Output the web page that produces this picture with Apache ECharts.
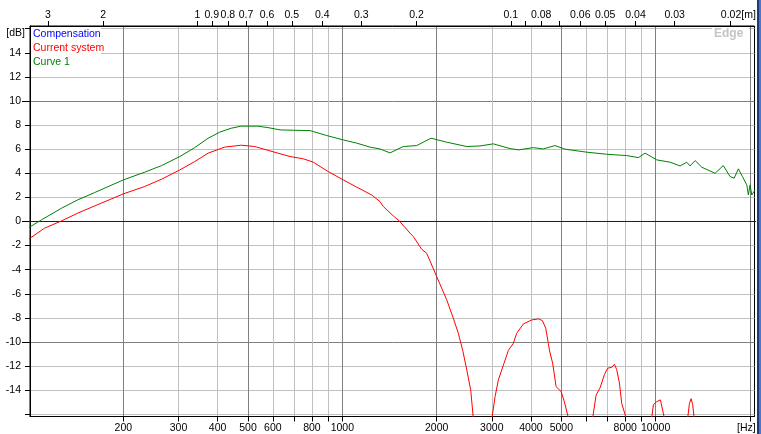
<!DOCTYPE html>
<html><head><meta charset="utf-8">
<script src="https://cdn.jsdelivr.net/npm/echarts@6/dist/echarts.min.js"></script>
<style>html,body{margin:0;padding:0;background:#fff}#c{width:761px;height:434px}</style>
</head><body><div id="c"></div>
<script>
// ---- data ----
const SOUND_SPEED = 345; // m/s, for the wavelength axis
const xMinHz = 100.75, xMaxHz = 20680;
const yMinDb = -16.18, yMaxDb = 16.22;

const xTickHz  = [200,300,400,500,600,700,800,900,1000,2000,3000,4000,5000,6000,7000,8000,9000,10000,20000];
const xMajorHz = [200,500,1000,2000,5000,10000,20000];
const xLabelHz = [200,300,400,500,600,800,1000,2000,3000,4000,5000,8000,10000,20000];

const topTickM  = [3,2,1,0.9,0.8,0.7,0.6,0.5,0.4,0.3,0.2,0.1,0.09,0.08,0.07,0.06,0.05,0.04,0.03,0.02];
const topLabelM = [3,2,1,0.9,0.8,0.7,0.6,0.5,0.4,0.3,0.2,0.1,0.08,0.06,0.05,0.04,0.03,0.02];

const yTickDb  = [-16,-14,-12,-10,-8,-6,-4,-2,0,2,4,6,8,10,12,14,16];
const yLabelDb = [-14,-12,-10,-8,-6,-4,-2,0,2,4,6,8,10,12,14];
const yMajorDb = [-10,0,10];

const seriesNames = ['Compensation','Current system','Curve 1'];

const compHz = [100, 21000];
const compDb = [0, 0];

const currentHz = [100,112,127,143,162,200,234,265,303,338,373,421,476,525,580,623,681,751,808,902,1007,1112,1241,1319,1352,1455,1523,1645,1685,1792,1859,2001,2154,2261,2345,2423,2496,2570,2618,2800,3004,3073,3148,3282,3388,3515,3603,3783,4022,4223,4350,4459,4545,4580,4692,4811,4991,5113,5266,5750,6298,6457,6649,6864,7033,7243,7388,7513,7664,7795,8050,8900,9716,9837,10080,10360,10490,10660,11600,12660,12820,12980,13130,13270,14500,17000,21000];
const currentDb = [-1.45,-0.56,0.05,0.69,1.29,2.29,2.9,3.51,4.28,4.97,5.67,6.17,6.33,6.22,5.9,5.67,5.39,5.2,4.92,4.14,3.45,2.85,2.2,1.65,1.24,0.46,0.02,-0.97,-1.25,-2.3,-2.63,-4.57,-6.5,-8.03,-9.27,-10.7,-12.3,-14,-16.3,-30,-16.3,-14.53,-13.15,-11.76,-10.7,-10.1,-9.27,-8.5,-8.17,-8.08,-8.22,-8.85,-10.1,-10.66,-11.76,-13.7,-14.1,-14.95,-16.3,-24,-16.3,-14.4,-13.8,-12.7,-12.17,-12.1,-11.84,-12.3,-13.4,-15.1,-16.3,-22,-16.3,-15.2,-14.95,-14.8,-14.95,-16.3,-22,-16.3,-15.1,-14.7,-15.2,-16.3,-22,-25,-24];

const curve1Hz = [100,109.5,127,143,162,200,234,265,303,338,373,406,442,476,538,579,633,700,789,892,1007,1112,1226,1319,1420,1565,1728,1919,2154,2496,2751,3034,3430,3646,4071,4381,4775,5140,6030,6983,8088,8810,9256,10087,11120,11970,12570,12880,13370,14040,15480,16440,17280,17800,18370,18920,19540,19770,20010,20270,20770];
const curve1Db = [-0.5,0.13,1.1,1.79,2.4,3.45,4.09,4.64,5.39,6.13,6.91,7.41,7.74,7.91,7.91,7.79,7.6,7.57,7.54,7.13,6.77,6.5,6.17,6.02,5.69,6.22,6.3,6.91,6.58,6.22,6.27,6.44,6.05,5.94,6.13,6.02,6.3,6.0,5.75,5.58,5.47,5.3,5.67,5.11,4.92,4.61,4.92,4.61,5.05,4.5,4.0,4.64,3.73,3.59,4.37,3.73,3.04,2.2,3.04,2.2,2.62];

// ---- styles ----
const DARK = '#808080', LIGHT = '#c0c0c0';
const FONT = '"Liberation Sans", Arial, sans-serif';
const FS = 10.5;
const lg = Math.log10;
const pts = (hz, db) => hz.map((f, i) => [lg(f), db[i]]);

const chart = echarts.init(document.getElementById('c'), null, {renderer: 'canvas'});

const baseX = {
  type: 'value', min: lg(xMinHz), max: lg(xMaxHz), gridIndex: 0
};

chart.setOption({
  animation: false,
  backgroundColor: '#fff',
  textStyle: {fontFamily: FONT},
  grid: {left: 30, right: 6.5, top: 26, bottom: 17.5, show: true, borderColor: '#000', borderWidth: 1, backgroundColor: 'transparent', outerBoundsMode: 'none', containLabel: false},
  legend: {
    orient: 'vertical', left: 28, top: 27.5, padding: 0, icon: 'none', itemWidth: 0, itemHeight: 14, itemGap: 1.5,
    selectedMode: false,
    textStyle: {fontSize: FS, fontFamily: FONT},
    data: [
      {name: seriesNames[0], textStyle: {color: '#0000ff'}},
      {name: seriesNames[1], textStyle: {color: '#ff0000'}},
      {name: seriesNames[2], textStyle: {color: '#008000'}}
    ]
  },
  xAxis: [
    Object.assign({}, baseX, {
      position: 'bottom',
      axisLine: {show: true, onZero: false, lineStyle: {color: '#000', width: 1}},
      axisTick: {show: true, length: 5, customValues: xTickHz.map(lg), lineStyle: {color: '#000'}},
      axisLabel: {show: true, margin: 6, color: '#000', fontSize: FS, fontFamily: FONT,
        customValues: xLabelHz.map(lg),
        formatter: v => { const f = Math.round(Math.pow(10, v)); return f === 20000 ? '[Hz]{pad|}' : String(f); },
        rich: {pad: {width: 7}}},
      splitLine: {show: true, lineStyle: {width: 1, color: xTickHz.map(f => xMajorHz.includes(f) ? DARK : LIGHT)}}
    }),
    Object.assign({}, baseX, {
      position: 'top',
      axisLine: {show: true, onZero: false, lineStyle: {color: '#000', width: 1}},
      axisTick: {show: true, length: 5, customValues: topTickM.map(m => lg(SOUND_SPEED / m)), lineStyle: {color: '#000'}},
      axisLabel: {show: true, margin: 5, color: '#000', fontSize: FS, fontFamily: FONT,
        customValues: topLabelM.map(m => lg(SOUND_SPEED / m)),
        formatter: v => { const m = Math.round(SOUND_SPEED / Math.pow(10, v) * 100) / 100; return m === 0.02 ? '{pad|}0.02[m]' : String(m); },
        rich: {pad: {width: 17}}},
      splitLine: {show: false}
    })
  ],
  yAxis: [
    {
      type: 'value', min: yMinDb, max: yMaxDb, position: 'left',
      axisLine: {show: true, onZero: false, lineStyle: {color: '#000', width: 1}},
      axisTick: {show: true, length: 5, customValues: yTickDb, lineStyle: {color: '#000'}},
      axisLabel: {show: true, margin: 9, color: '#000', fontSize: FS, fontFamily: FONT, customValues: yLabelDb, formatter: v => String(v)},
      splitLine: {show: true, lineStyle: {width: 1, color: yTickDb.map(d => yMajorDb.includes(d) ? DARK : LIGHT)}}
    },
    {
      type: 'value', min: yMinDb, max: yMaxDb, position: 'left', offset: 0,
      axisLine: {show: false, onZero: false},
      axisTick: {show: true, length: 8, customValues: yMajorDb, lineStyle: {color: '#000'}},
      axisLabel: {show: false},
      splitLine: {show: false}
    }
  ],
  graphic: [
    {type: 'rect', z: 1, shape: {x: 31, y: 27, width: 70, height: 45}, style: {fill: '#fff'}, silent: true},
    {type: 'rect', z: 1, shape: {x: 712, y: 27, width: 37, height: 14}, style: {fill: '#fff'}, silent: true},
    {type: 'text', z: 1, x: 714, y: 28, style: {text: 'Edge', fill: '#c4c4c4', fontSize: 12, fontWeight: 'bold', fontFamily: FONT}, silent: true},
    {type: 'text', z: 1, x: 25, y: 33, style: {text: '[dB]', fill: '#000', fontSize: FS, fontFamily: FONT, align: 'right', verticalAlign: 'middle'}, silent: true},
    {type: 'rect', z: 5, shape: {x: 757, y: 0, width: 2, height: 434}, style: {fill: '#1c3a78'}, silent: true},
    {type: 'rect', z: 5, shape: {x: 759, y: 0, width: 2, height: 434}, style: {fill: '#4a78c8'}, silent: true}
  ],
  series: [
    {name: seriesNames[0], type: 'line', zlevel: 1, z: 6, xAxisIndex: 0, yAxisIndex: 0, data: pts(compHz, compDb), showSymbol: false, symbol: 'none', clip: true, silent: true, lineStyle: {color: '#0000ff', width: 1}, itemStyle: {color: '#0000ff'}},
    {name: seriesNames[1], type: 'line', zlevel: 1, z: 7, xAxisIndex: 0, yAxisIndex: 0, data: pts(currentHz, currentDb), showSymbol: false, symbol: 'none', clip: true, silent: true, lineStyle: {color: '#ff0000', width: 1}, itemStyle: {color: '#ff0000'}},
    {name: seriesNames[2], type: 'line', zlevel: 1, z: 8, xAxisIndex: 0, yAxisIndex: 0, data: pts(curve1Hz, curve1Db), showSymbol: false, symbol: 'none', clip: true, silent: true, lineStyle: {color: '#008000', width: 1}, itemStyle: {color: '#008000'}}
  ]
});
</script>
</body></html>
